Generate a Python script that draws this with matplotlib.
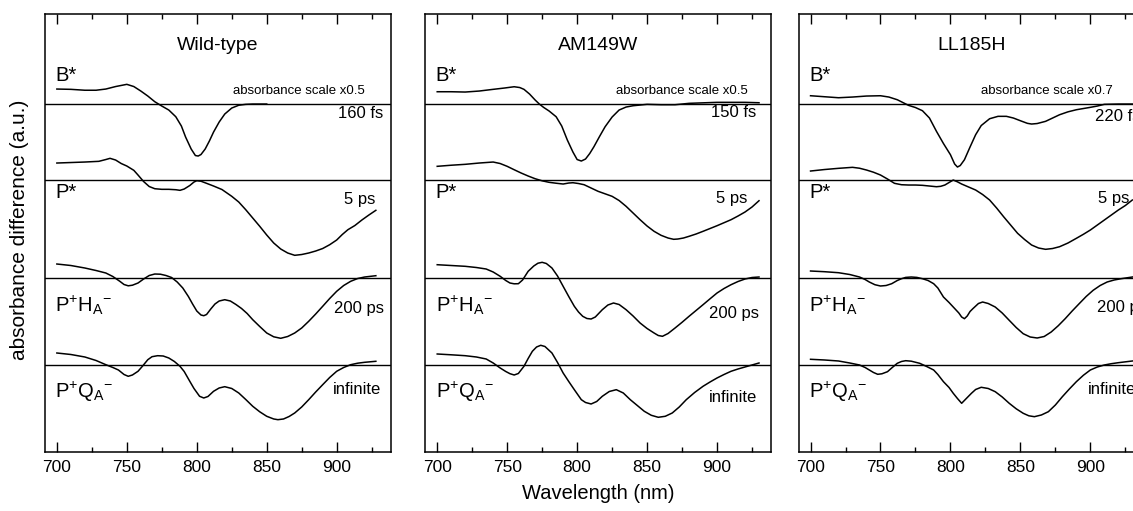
import matplotlib
matplotlib.use("Agg")
import matplotlib.pyplot as plt
from matplotlib.ticker import MultipleLocator

plt.rcParams['font.family'] = ['Liberation Sans', 'DejaVu Sans']
plt.rcParams['mathtext.fontset'] = 'custom'
plt.rcParams['mathtext.rm'] = 'Liberation Sans'
plt.rcParams['mathtext.it'] = 'Liberation Sans:italic'
plt.rcParams['mathtext.default'] = 'regular'

# ---- spectra (wavelength in nm, absorbance difference in a.u.) ----
# Wild-type
wt_b_nm = [700, 710, 720, 728, 735, 742, 750, 755, 760, 765, 770, 775, 780, 785, 789, 792,
           796, 799, 801, 803, 806, 809, 812, 816, 820, 825, 830, 835, 840, 850]
wt_b = [15, 14.7, 13.8, 13.8, 15, 17.5, 19.7, 17.5, 13, 8, 2.3, -2, -6, -12.7, -22, -33,
        -45, -51.5, -52, -50.5, -45, -37, -28, -18, -10, -4, -1.2, -0.3, 0, 0]
wt_p_nm = [700, 710, 720, 730, 735, 738, 742, 746, 750, 755, 758, 762, 766, 770, 775, 780,
           785, 788, 791, 795, 798, 800, 803, 807, 812, 818, 825, 830, 835, 840, 845, 850,
           855, 860, 865, 870, 875, 880, 885, 890, 895, 900, 904, 908, 913, 918, 923, 928]
wt_p = [17, 17.5, 18, 18.7, 20.5, 21.7, 20, 16.5, 14, 9.7, 5, -1.5, -6.5, -8.7, -9.3, -9.3,
        -9.7, -10.3, -9, -5.5, -2, -0.7, -1.2, -3.3, -6, -9.5, -16.3, -22, -29.7, -38, -46.3, -55,
        -63, -69, -73, -75.3, -74.5, -73, -71, -68.5, -64.7, -60, -54.5, -49.7, -45.5, -40, -35, -30.3]
wt_h_nm = [700, 710, 720, 728, 735, 740, 745, 748, 751, 754, 758, 762, 766, 770, 774, 778,
           782, 786, 790, 794, 797, 800, 803, 805, 807, 810, 813, 816, 820, 824, 828, 832,
           836, 840, 845, 850, 855, 860, 865, 870, 875, 880, 885, 890, 895, 900, 905, 910,
           915, 920, 928]
wt_h = [14, 12.5, 10, 7.5, 5, 1.5, -3.3, -6.5, -7.8, -7.2, -5, -1, 2.5, 4, 3.8, 2.5,
        0.5, -4, -10, -18.5, -26, -33, -37, -37.7, -36.5, -31, -26, -23, -21.7, -23, -26.5, -30.5,
        -35.5, -41.7, -48.5, -55, -58.8, -60.3, -58.5, -55, -50, -43.3, -36, -28.3, -20.5, -13.3, -7.5, -3.3,
        -0.5, 1, 2.3]
wt_q_nm = [700, 710, 720, 728, 735, 740, 744, 748, 751, 754, 758, 761, 765, 768, 772, 776,
           780, 784, 788, 791, 795, 798, 802, 805, 808, 812, 816, 820, 825, 830, 835, 840,
           845, 850, 855, 858, 862, 866, 870, 875, 880, 885, 890, 895, 900, 905, 910, 915,
           920, 928]
wt_q = [12, 10.5, 8, 4.5, 0.3, -2.5, -5, -9.5, -11.3, -10, -6.3, -1.5, 5.3, 8.3, 9.3, 9,
        7, 3.5, -1.3, -6.5, -16.3, -23.5, -31.3, -33, -31.5, -26.3, -23, -21.7, -23.5, -28, -34.5, -41.3,
        -46.8, -51.3, -54, -54.7, -54, -51.5, -48, -42, -34.7, -27, -19.7, -12.5, -6.3, -2.5, 0.3, 1.8,
        2.7, 3.7]

# AM149W
am_b_nm = [700, 710, 720, 730, 740, 748, 755, 759, 762, 766, 770, 773, 776, 780, 785, 789,
           793, 797, 800, 803, 806, 809, 812, 816, 820, 825, 830, 835, 840, 850, 860, 870,
           880, 900, 920, 930]
am_b = [12.3, 12.3, 12, 13, 14.7, 16, 17.3, 16.5, 14.7, 10, 4, 0, -3.3, -7, -12.7, -22,
        -36, -48, -55.5, -57, -55, -49.5, -42.7, -32.5, -22.7, -13, -6, -3, -1.7, -0.3, -0.7, -0.7,
        0.7, 1.7, 1.7, 1.3]
am_p_nm = [700, 710, 720, 730, 740, 745, 750, 755, 760, 765, 770, 775, 780, 785, 790, 794,
           797, 801, 805, 810, 815, 820, 825, 830, 835, 840, 845, 850, 855, 860, 865, 869,
           872, 876, 880, 885, 890, 895, 900, 905, 910, 915, 920, 925, 930]
am_p = [13.7, 14.8, 15.7, 17, 18, 16.5, 13.7, 10.3, 7, 4, 1.3, -0.8, -2.3, -3.2, -4, -3,
        -2.7, -3.5, -4.7, -8, -11.3, -13.8, -16.3, -20.5, -26.3, -33, -39.7, -46, -51.3, -55.3, -58, -59.3,
        -59, -58, -56.3, -54, -51.3, -48.5, -45.7, -42.7, -39.7, -36, -32, -27, -20.7]
am_h_nm = [700, 710, 720, 728, 735, 740, 745, 749, 752, 755, 758, 761, 765, 769, 772, 775,
           778, 782, 786, 790, 794, 798, 801, 804, 807, 810, 813, 818, 822, 826, 830, 835,
           840, 845, 850, 855, 858, 861, 865, 870, 875, 880, 885, 890, 895, 900, 905, 910,
           915, 920, 925, 930]
am_h = [13.3, 12.5, 11.7, 10.5, 9, 6, 1.7, -2.5, -5, -5.8, -5.7, -2, 6.7, 12, 14.8, 15.7,
        14.5, 10, 2, -8.3, -18.5, -28.3, -34, -38.3, -40.5, -41, -39, -31.7, -27, -25, -26.5, -31.7,
        -38, -45, -50.5, -55, -57.5, -58.3, -55.5, -50, -44.3, -38.3, -32.5, -26.7, -20.8, -15, -10.5, -6.7,
        -3.5, -1, 0.5, 1]
am_q_nm = [700, 710, 720, 728, 735, 740, 745, 749, 752, 755, 758, 762, 765, 768, 771, 774,
           777, 782, 786, 790, 794, 798, 803, 806, 810, 814, 818, 823, 828, 833, 838, 843,
           848, 853, 858, 863, 868, 873, 878, 884, 890, 895, 900, 905, 910, 915, 920, 925,
           930]
am_q = [11, 10.2, 9.3, 8, 6, 2, -3, -6.5, -8.7, -10, -8.5, -1.3, 6.5, 13.7, 18, 19.7,
        18.5, 12, 2.5, -8, -16.5, -24.7, -34.7, -37.5, -39, -36.5, -31.3, -26.5, -24.7, -28, -34.7, -40.5,
        -46.3, -50.3, -52.3, -51.3, -48, -42, -34.7, -27.5, -21.3, -17, -13, -9.5, -6.3, -4, -2, 0,
        2]

# LL185H
ll_b_nm = [700, 710, 720, 730, 740, 750, 756, 762, 766, 770, 775, 780, 785, 790, 795, 800,
           803, 805, 807, 810, 814, 818, 822, 828, 834, 840, 845, 850, 855, 858, 862, 868,
           873, 878, 884, 890, 900, 905, 910, 920, 935]
ll_b = [8.3, 7.3, 6.3, 7, 8, 8.3, 7, 4.3, 1.5, -1.3, -3.5, -6.7, -14, -27.3, -39.5, -50.7,
        -60, -63, -61.5, -55.7, -43, -30.7, -21.5, -14.7, -12.3, -12.3, -14, -16.7, -19.3, -20, -19.5, -17.3,
        -14, -10.7, -7.8, -5.7, -3.3, -2, -0.3, 0, 0]
ll_p_nm = [700, 710, 720, 730, 735, 740, 745, 750, 755, 760, 765, 770, 775, 780, 785, 790,
           793, 796, 799, 802, 805, 808, 813, 818, 823, 828, 833, 838, 843, 848, 853, 858,
           863, 868, 873, 878, 884, 890, 895, 900, 905, 910, 915, 920, 925, 930]
ll_p = [9, 10.5, 11.7, 12.7, 11.8, 10, 7.8, 5, 1, -3.3, -4.7, -5, -5, -5.3, -6, -6.7,
        -6.3, -5, -2.5, 0, -1.8, -4, -7, -10, -14.5, -20, -28, -36.7, -45, -53.3, -59.5, -65,
        -68, -69.3, -68.5, -66.7, -63, -58.3, -54.3, -50, -45, -40, -35, -30, -25.5, -20]
ll_h_nm = [700, 710, 720, 728, 735, 739, 742, 746, 750, 754, 758, 762, 765, 768, 772, 776,
           780, 784, 788, 791, 795, 799, 802, 806, 808, 810, 812, 814, 816, 820, 823, 827,
           832, 837, 842, 847, 852, 857, 862, 867, 872, 877, 882, 887, 892, 897, 902, 907,
           912, 917, 922, 930]
ll_h = [7, 6.3, 5.3, 3.5, 1, -1.5, -4, -6.7, -8, -7.5, -5.7, -2.5, -0.7, 0.6, 1, 0.6,
        -0.7, -2.5, -5.7, -10, -19, -24.5, -29, -35, -39, -40.7, -38, -33.5, -30.7, -25.5, -24, -25.5,
        -29, -35, -42.3, -49.5, -55.7, -59, -60, -58.5, -54, -47.8, -40.7, -33, -25.7, -18.5, -12.3, -7.5,
        -4, -2, -0.7, 1]
ll_q_nm = [700, 710, 720, 728, 735, 739, 742, 745, 748, 751, 755, 758, 762, 765, 768, 772,
           778, 783, 788, 791, 795, 799, 802, 805, 808, 811, 815, 818, 822, 827, 832, 837,
           842, 847, 852, 856, 860, 865, 870, 875, 880, 885, 890, 895, 900, 905, 910, 915,
           920, 930]
ll_q = [5.7, 5, 4, 2, 0, -2.5, -5, -7.5, -9.3, -8.8, -6.7, -3, 1.7, 3.5, 4.3, 3.8,
        1.7, -1.5, -5, -9.5, -16.7, -22.5, -28.3, -33.5, -38.3, -34, -28.3, -24.5, -22.3, -23.5, -26.7, -32,
        -38.3, -43.8, -48.3, -50.8, -51.7, -50, -46.7, -40, -31.7, -24, -16.7, -10.3, -5, -2, 0, 1.3,
        2.3, 4]

titles = ['Wild-type', 'AM149W', 'LL185H']
scales = ['absorbance scale x0.5', 'absorbance scale x0.5', 'absorbance scale x0.7']
times = [['160 fs', '5 ps', '200 ps', 'infinite'],
         ['150 fs', '5 ps', '200 ps', 'infinite'],
         ['220 fs', '5 ps', '200 ps', 'infinite']]
states = ['B*', 'P*', r'P$^{+}$H$_{A}{}^{-}$', r'P$^{+}$Q$_{A}{}^{-}$']
spectra = [
    [(wt_b_nm, wt_b), (wt_p_nm, wt_p), (wt_h_nm, wt_h), (wt_q_nm, wt_q)],
    [(am_b_nm, am_b), (am_p_nm, am_p), (am_h_nm, am_h), (am_q_nm, am_q)],
    [(ll_b_nm, ll_b), (ll_p_nm, ll_p), (ll_h_nm, ll_h), (ll_q_nm, ll_q)],
]

# vertical offset of each trace's zero line
offsets = [348, 272, 174, 87]
state_y = [377, 260, 147, 60]
# (x, y, ha) of the time-constant labels in each panel
time_pos = [
    [(933, 339, 'right'), (928, 253, 'right'), (934, 144, 'right'), (932, 62, 'right')],
    [(928, 340, 'right'), (922, 254, 'right'), (930, 139, 'right'), (929, 54, 'right')],
    [(903.5, 336, 'left'), (905.5, 254, 'left'), (905, 145, 'left'), (898.5, 62, 'left')],
]
scale_x = [920, 922, 916]

fig = plt.figure(figsize=(11.33, 5.11), dpi=100)
lefts = [0.0397, 0.3754, 0.7049]

for i in range(3):
    ax = fig.add_axes([lefts[i], 0.1155, 0.3050, 0.857])
    ax.set_xlim(691.5, 938.5)
    ax.set_ylim(0, 438)
    for k in range(4):
        nm, val = spectra[i][k]
        ax.axhline(offsets[k], color='black', lw=1.0)
        ax.plot(nm, [v + offsets[k] for v in val], color='black', lw=1.1)
        ax.text(699, state_y[k], states[k], fontsize=14.5, ha='left', va='center')
        tx, ty, ha = time_pos[i][k]
        ax.text(tx, ty, times[i][k], fontsize=12, ha=ha, va='center')
    ax.text(0.5, 407 / 438, titles[i], transform=ax.transAxes,
            fontsize=14, ha='center', va='center')
    ax.text(scale_x[i], 361, scales[i], fontsize=9.5, ha='right', va='center')

    ax.set_xticks([700, 750, 800, 850, 900])
    ax.xaxis.set_minor_locator(MultipleLocator(25))
    ax.tick_params(axis='x', which='both', direction='in', top=True, width=1.0)
    ax.tick_params(axis='x', which='major', length=7.5, labelsize=12.5, pad=6)
    ax.tick_params(axis='x', which='minor', length=3.5)
    ax.tick_params(axis='y', left=False, labelleft=False)
    for s in ax.spines.values():
        s.set_linewidth(1.1)
    if i == 1:
        ax.set_xlabel('Wavelength (nm)', fontsize=14.5, labelpad=6)

fig.text(0.017, 0.55, 'absorbance difference (a.u.)', rotation=90,
         fontsize=15, ha='center', va='center')

fig.savefig('out.png', dpi=100)
